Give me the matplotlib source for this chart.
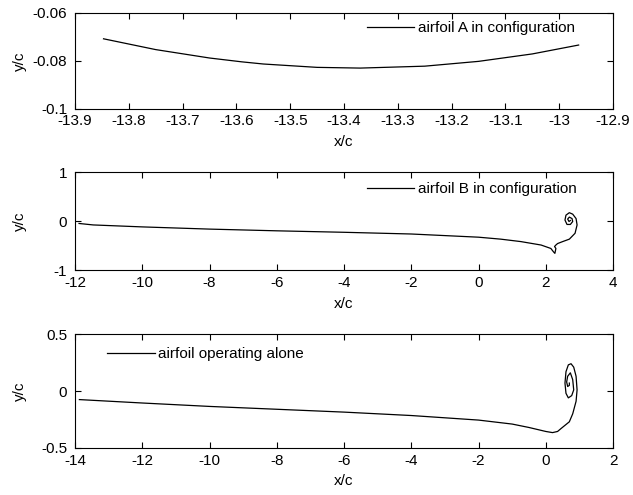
import numpy as np
import matplotlib
matplotlib.use("Agg")
import matplotlib.pyplot as plt

plt.rcParams['font.family'] = ['Liberation Sans', 'DejaVu Sans']
plt.rcParams['axes.unicode_minus'] = False

# wake trajectory of airfoil A (in configuration)
xa = [-13.847, -13.75, -13.65, -13.59, -13.55, -13.45, -13.37, -13.25, -13.15, -13.05, -12.964]
ya = [-0.0708, -0.0753, -0.0788, -0.0804, -0.0813, -0.0827, -0.0830, -0.0822, -0.0802, -0.0771, -0.0734]

# wake trajectory of airfoil B (in configuration)
xb = [-11.88, -11.46, -10.0, -8.0, -6.0, -4.0, -2.0, 0.0, 0.66, 1.26, 1.86, 2.15,
      2.23, 2.27, 2.30, 2.26, 2.30, 2.35, 2.50, 2.70, 2.87, 2.93, 2.90, 2.80, 2.70, 2.60,
      2.57, 2.63, 2.73, 2.80, 2.78, 2.70, 2.65, 2.69, 2.73]
yb = [-0.05, -0.08, -0.12, -0.165, -0.20, -0.23, -0.265, -0.33, -0.37, -0.42, -0.49, -0.56,
      -0.63, -0.66, -0.56, -0.52, -0.49, -0.46, -0.42, -0.37, -0.25, -0.08, 0.05, 0.14, 0.17, 0.12,
      0.02, -0.07, -0.07, -0.01, 0.05, 0.08, 0.04, -0.01, 0.01]

# wake trajectory of the isolated airfoil
xc = [-13.87, -12.0, -10.0, -8.0, -6.0, -4.0, -2.0, -1.0, -0.5, 0.0, 0.2, 0.35, 0.45,
      0.70, 0.80, 0.90, 0.93, 0.90, 0.83, 0.75, 0.67, 0.60, 0.57, 0.60, 0.67, 0.77, 0.83,
      0.80, 0.73, 0.65, 0.62, 0.65, 0.70, 0.70]
yc = [-0.075, -0.105, -0.135, -0.16, -0.185, -0.215, -0.255, -0.29, -0.32, -0.355, -0.365, -0.355, -0.33,
      -0.27, -0.20, -0.09, 0.01, 0.13, 0.21, 0.24, 0.23, 0.17, 0.07, -0.02, -0.06, -0.04, 0.01,
      0.10, 0.16, 0.13, 0.08, 0.04, 0.05, 0.07]

fs = 11

fig = plt.figure(figsize=(6.33, 4.95), dpi=100)
left, width = 0.1185, 0.85
ax1 = fig.add_axes([left, 0.780, width, 0.194])
ax2 = fig.add_axes([left, 0.4545, width, 0.198])
ax3 = fig.add_axes([left, 0.095, width, 0.230])

ax1.plot(xa, ya, color='black', lw=0.9, label='airfoil A in configuration')
ax1.set_xlim(-13.9, -12.9)
ax1.set_ylim(-0.1, -0.06)
xt1 = np.round(np.arange(-13.9, -12.85, 0.1), 1)
ax1.set_xticks(xt1)
ax1.set_xticklabels(['-13' if abs(v + 13) < 1e-9 else '%g' % v for v in xt1])
ax1.set_yticks([-0.1, -0.08, -0.06])
ax1.set_yticklabels(['-0.1', '-0.08', '-0.06'])

ax2.plot(xb, yb, color='black', lw=0.9, label='airfoil B in configuration')
ax2.set_xlim(-12, 4)
ax2.set_ylim(-1, 1)
ax2.set_xticks(range(-12, 5, 2))
ax2.set_yticks([-1, 0, 1])

ax3.plot(xc, yc, color='black', lw=0.9, label='airfoil operating alone')
ax3.set_xlim(-14, 2)
ax3.set_ylim(-0.5, 0.5)
ax3.set_xticks(range(-14, 3, 2))
ax3.set_yticks([-0.5, 0, 0.5])
ax3.set_yticklabels(['-0.5', '0', '0.5'])

# legend anchors (axes fraction, left end of the legend line)
anchors = [(0.542, 0.84), (0.542, 0.827), (0.06, 0.825)]

for ax, anc in zip((ax1, ax2, ax3), anchors):
    ax.tick_params(direction='in', top=True, right=True, length=4, width=0.8,
                   labelsize=fs)
    ax.tick_params(axis='x', pad=4)
    ax.tick_params(axis='y', pad=5.5)
    for s in ax.spines.values():
        s.set_linewidth(0.8)
    ax.set_xlabel('x/c', fontsize=fs, labelpad=5)
    ax.set_ylabel('y/c', fontsize=fs)
    ax.yaxis.set_label_coords(-0.09, 0.5)
    ax.legend(loc='center left', bbox_to_anchor=anc, frameon=False,
              fontsize=fs, borderpad=0, borderaxespad=0,
              handlelength=3.1, handletextpad=0.25)

fig.savefig('out.png', dpi=100)
